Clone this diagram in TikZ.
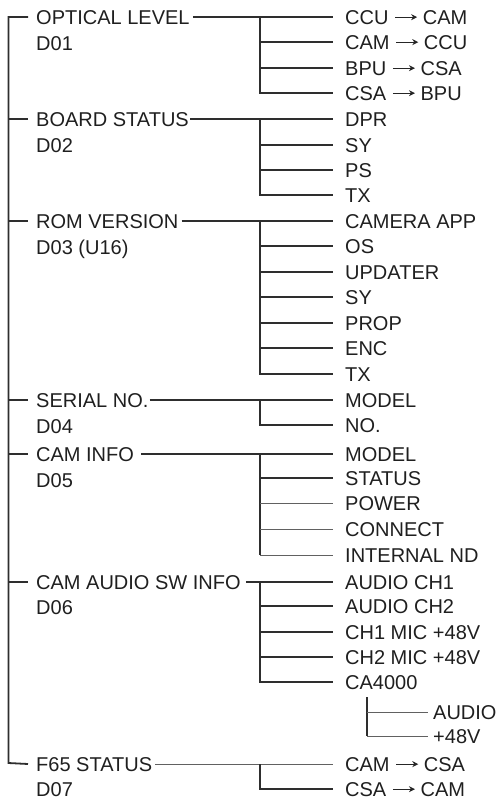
\documentclass[tikz,border=0pt]{standalone}
\usepackage{fontspec}
\setmainfont{Liberation Sans}
\usetikzlibrary{arrows.meta}
\newcommand{\rarr}{\hspace{6pt}\tikz[baseline=0pt]\draw[line width=1.3pt,draw=black!85,-{Stealth[length=6pt,width=6pt]}] (0pt,7pt)--(22pt,7pt);\hspace{5pt}}
\begin{document}
\begin{tikzpicture}[x=1pt,y=-1pt,
  lbl/.style={anchor=west,inner xsep=0pt,inner ysep=0pt,text height=14.3pt,text depth=0pt,font=\fontsize{20}{24}\selectfont,text=black!88},
  thk/.style={line width=1.8pt,draw=black!82,line join=miter},
  thn/.style={line width=1pt,draw=black!62},
]
\useasboundingbox (0,0) rectangle (498,801);
\coordinate (mt) at (8.5,17);
\coordinate (mb) at (8.5,763);
\coordinate (vx) at (260,0);
% left labels
\node[lbl] (p1) at (36,17) {OPTICAL LEVEL};
\node[lbl] (d1) at (36,43) {D01};
\node[lbl] (p2) at (36,119) {BOARD STATUS};
\node[lbl] (d2) at (36,145) {D02};
\node[lbl] (p3) at (36,221) {ROM VERSION};
\node[lbl] (d3) at (36,247) {D03 (U16)};
\node[lbl] (p4) at (36,400) {SERIAL NO.};
\node[lbl] (d4) at (36,426) {D04};
\node[lbl] (p5) at (36,454) {CAM INFO};
\node[lbl] (d5) at (36,480) {D05};
\node[lbl] (p6) at (36,582) {CAM AUDIO SW INFO};
\node[lbl] (d6) at (36,607) {D06};
\node[lbl] (p7) at (36,764) {F65 STATUS};
\node[lbl] (d7) at (36,789) {D07};
% right labels
\node[lbl] (o1) at (345,17) {CCU\rarr CAM};
\node[lbl] (o2) at (345,42) {CAM\rarr CCU};
\node[lbl] (o3) at (345,68) {BPU\rarr CSA};
\node[lbl] (o4) at (345,93) {CSA\rarr BPU};
\node[lbl] (b1) at (345,119) {DPR};
\node[lbl] (b2) at (345,145) {SY};
\node[lbl] (b3) at (345,170) {PS};
\node[lbl] (b4) at (345,195) {TX};
\node[lbl] (r1) at (345,221) {CAMERA APP};
\node[lbl] (r2) at (345,246) {OS};
\node[lbl] (r3) at (345,272) {UPDATER};
\node[lbl] (r4) at (345,297) {SY};
\node[lbl] (r5) at (345,323) {PROP};
\node[lbl] (r6) at (345,348) {ENC};
\node[lbl] (r7) at (345,374) {TX};
\node[lbl] (s1) at (345,400) {MODEL};
\node[lbl] (s2) at (345,425) {NO.};
\node[lbl] (c1) at (345,454) {MODEL};
\node[lbl] (c2) at (345,478) {STATUS};
\node[lbl] (c3) at (345,503) {POWER};
\node[lbl] (c4) at (345,529) {CONNECT};
\node[lbl] (c5) at (345,555) {INTERNAL ND};
\node[lbl] (a1) at (345,582) {AUDIO CH1};
\node[lbl] (a2) at (345,606) {AUDIO CH2};
\node[lbl] (a3) at (345,632) {CH1 MIC +48V};
\node[lbl] (a4) at (345,657) {CH2 MIC +48V};
\node[lbl] (a5) at (345,682) {CA4000};
\node[lbl] (x1) at (433,712) {AUDIO};
\node[lbl] (x2) at (433,736) {+48V};
\node[lbl] (f1) at (345,764) {CAM\rarr CSA};
\node[lbl] (f2) at (345,789) {CSA\rarr CAM};
\coordinate (sx) at (367,697);
% main spine
\draw[thk] ([xshift=-8pt]p1.west) -- (mt) -- (mb) -- ([xshift=-8pt]p7.west);
\foreach \p in {p2,p3,p4,p5,p6}
  \draw[thk] (mt |- \p.west) -- ([xshift=-8pt]\p.west);
% group connectors
\draw[thk] ([xshift=3pt]p1.east) -- ([xshift=-12pt]o1.west);
\draw[thk] (vx |- o1.west) -- (vx |- o4.west) -- ([xshift=-12pt]o4.west);
\foreach \c in {o2,o3} \draw[thk] (vx |- \c.west) -- ([xshift=-12pt]\c.west);
\draw[thk] ([xshift=1pt]p2.east) -- ([xshift=-12pt]b1.west);
\draw[thk] (vx |- b1.west) -- (vx |- b4.west) -- ([xshift=-12pt]b4.west);
\foreach \c in {b2,b3} \draw[thk] (vx |- \c.west) -- ([xshift=-12pt]\c.west);
\draw[thk] ([xshift=3pt]p3.east) -- ([xshift=-12pt]r1.west);
\draw[thk] (vx |- r1.west) -- (vx |- r7.west) -- ([xshift=-12pt]r7.west);
\foreach \c in {r2,r3,r4,r5,r6} \draw[thk] (vx |- \c.west) -- ([xshift=-12pt]\c.west);
\draw[thk] ([xshift=1pt]p4.east) -- ([xshift=-12pt]s1.west);
\draw[thk] (vx |- s1.west) -- (vx |- s2.west) -- ([xshift=-12pt]s2.west);
\draw[thk,line width=1.4pt] ([xshift=7pt]p5.east) -- ([xshift=-12pt]c1.west);
\draw[thk] (vx |- c1.west) -- (vx |- c5.west);
\draw[thk] (vx |- c2.west) -- ([xshift=-12pt]c2.west);
\foreach \c in {c3,c4,c5} \draw[thn] (vx |- \c.west) -- ([xshift=-12pt]\c.west);
\draw[thk,line width=1.4pt] ([xshift=5pt]p6.east) -- ([xshift=-12pt]a1.west);
\draw[thk] (vx |- a1.west) -- (vx |- a5.west) -- ([xshift=-12pt]a5.west);
\foreach \c in {a2,a3,a4} \draw[thk] (vx |- \c.west) -- ([xshift=-12pt]\c.west);
\draw[thk] (sx) -- (sx |- x2.west);
\foreach \c in {x1,x2} \draw[thn] (sx |- \c.west) -- ([xshift=-5pt]\c.west);
\draw[thn] ([xshift=3pt]p7.east) -- ([xshift=-12pt]f1.west);
\draw[thk] (vx |- f1.west) -- (vx |- f2.west) -- ([xshift=-12pt]f2.west);
\end{tikzpicture}
\end{document}
